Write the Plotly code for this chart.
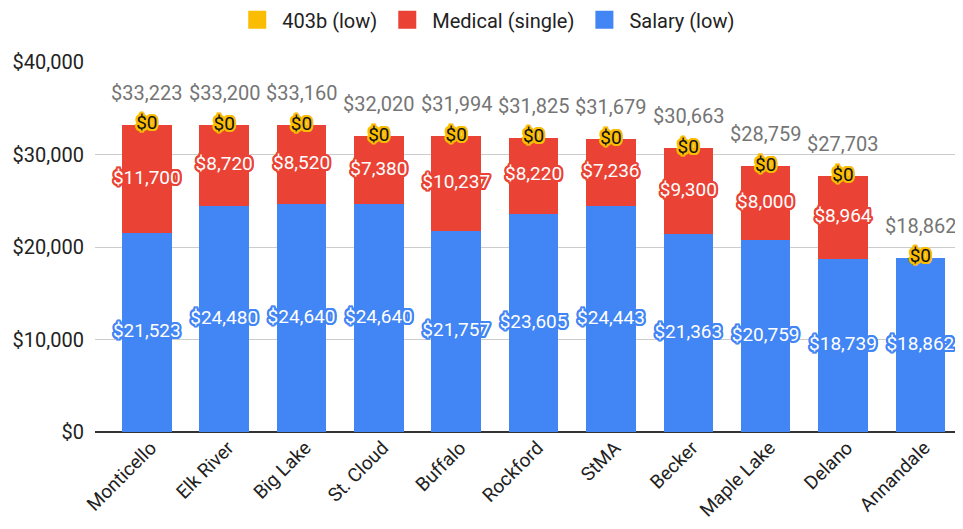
import plotly.graph_objects as go

cities = ["Monticello", "Elk River", "Big Lake", "St. Cloud", "Buffalo", "Rockford",
          "StMA", "Becker", "Maple Lake", "Delano", "Annandale"]
salary = [21523, 24480, 24640, 24640, 21757, 23605, 24443, 21363, 20759, 18739, 18862]
medical = [11700, 8720, 8520, 7380, 10237, 8220, 7236, 9300, 8000, 8964, None]
b403 = [0, 0, 0, 0, 0, 0, 0, 0, 0, 0, 0]
ytick_vals = [0, 10000, 20000, 30000, 40000]
ytick_text = ["$0", "$10,000", "$20,000", "$30,000", "$40,000"]

BLUE = "#4285F4"
RED = "#EA4335"
YELLOW = "#FBBC04"
FONT = "Roboto"


def outline(c):
    offs = [(2, 0), (-2, 0), (0, 2), (0, -2), (1.5, 1.5), (-1.5, 1.5), (1.5, -1.5), (-1.5, -1.5),
            (1, 2), (-1, 2), (1, -2), (-1, -2), (2, 1), (-2, 1), (2, -1), (-2, -1)]
    return ", ".join(f"{x}px {y}px 0 {c}" for x, y in offs)


def money(v):
    return f"${v:,.0f}"


med0 = [m if m is not None else 0 for m in medical]
totals = [s + m + b for s, m, b in zip(salary, med0, b403)]

fig = go.Figure()
fig.add_trace(go.Bar(x=cities, y=salary, name="Salary (low)", marker_color=BLUE,
                     marker_line_width=0, showlegend=False))
fig.add_trace(go.Bar(x=cities, y=med0, name="Medical (single)", marker_color=RED,
                     marker_line_width=0, showlegend=False))
fig.add_trace(go.Bar(x=cities, y=b403, name="403b (low)", marker_color=YELLOW,
                     marker_line_width=0, showlegend=False))

# legend entries with large square swatches
for name, col in [("Salary (low)", BLUE), ("Medical (single)", RED), ("403b (low)", YELLOW)]:
    fig.add_trace(go.Scatter(x=[None], y=[None], mode="markers", name=name,
                             marker=dict(symbol="square", size=16, color=col,
                                         line=dict(color=col, width=2))))

# data labels
fig.add_trace(go.Scatter(
    x=cities, y=[s / 2 for s in salary], mode="text",
    text=[money(s) for s in salary], textposition="middle center",
    textfont=dict(family=FONT, size=19, color="white", shadow=outline(BLUE)),
    showlegend=False, hoverinfo="skip"))
fig.add_trace(go.Scatter(
    x=[c for c, m in zip(cities, medical) if m is not None],
    y=[s + m / 2 for s, m in zip(salary, medical) if m is not None], mode="text",
    text=[money(m) for m in medical if m is not None], textposition="middle center",
    textfont=dict(family=FONT, size=19, color="white", shadow=outline(RED)),
    showlegend=False, hoverinfo="skip"))
fig.add_trace(go.Scatter(
    x=cities, y=[t - b / 2 for t, b in zip(totals, b403)], mode="text",
    text=[money(b) for b in b403], textposition="middle center",
    textfont=dict(family=FONT, size=19, color="#111111", shadow=outline(YELLOW)),
    showlegend=False, hoverinfo="skip"))

for c, t in zip(cities, totals):
    fig.add_annotation(x=c, y=t, text=money(t), showarrow=False, yshift=32,
                       yanchor="middle", font=dict(family=FONT, size=20, color="#757575"))

fig.update_layout(
    width=947, height=513,
    barmode="stack", bargap=0.36,
    plot_bgcolor="white", paper_bgcolor="white",
    margin=dict(l=87, r=0, t=54, b=89),
    font=dict(family=FONT, size=18, color="#222222"),
    legend=dict(orientation="h", traceorder="reversed", itemsizing="trace", itemwidth=40,
                xref="container", x=0.505, xanchor="center",
                yref="container", y=0.977, yanchor="middle",
                font=dict(family=FONT, size=20, color="#222222")),
    xaxis=dict(range=[-0.67, 10.448], tickangle=-45, showgrid=False, ticks="",
               automargin=False, ticklabelshift=4,
               tickfont=dict(family=FONT, size=19, color="#222222")),
    yaxis=dict(range=[0, 40000], tickvals=ytick_vals, ticktext=ytick_text,
               showgrid=True, gridcolor="#cccccc", gridwidth=1,
               zeroline=True, zerolinecolor="#333333", zerolinewidth=1.5,
               automargin=False, ticklabelstandoff=10,
               tickfont=dict(family=FONT, size=20, color="#222222")),
)

fig.write_html("out.html")
